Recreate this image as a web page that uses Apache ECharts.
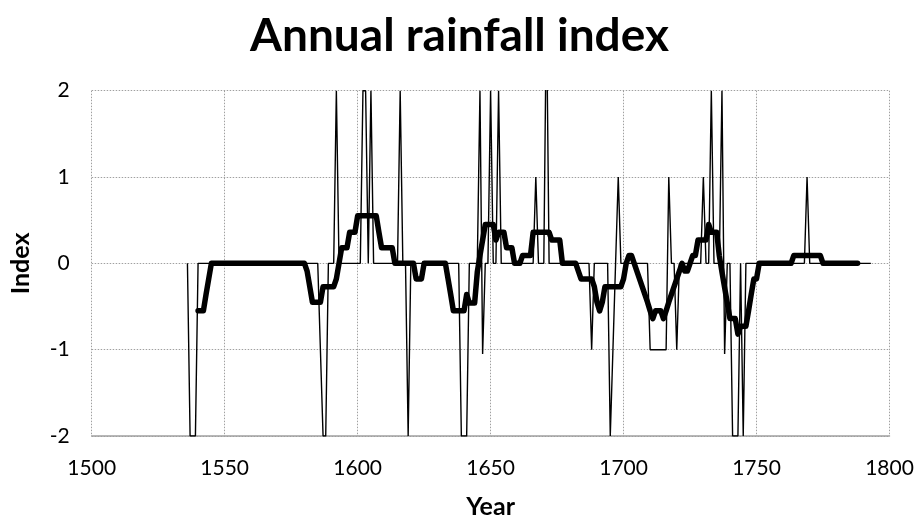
<!DOCTYPE html>
<html>
<head>
<meta charset="utf-8">
<script src="https://cdn.jsdelivr.net/npm/echarts@6/dist/echarts.min.js"></script>
<style>
html,body{margin:0;padding:0;background:#fff;}
#chart{width:919px;height:524px;}
</style>
</head>
<body>
<div id="chart"></div>
<script>
// Annual index values, one per year starting at thinStart
const thinStart = 1536;
const thinValues = [
  0, -2, -2, -2,                                   // 1536-1539
  0, 0, 0, 0, 0, 0, 0, 0, 0, 0,                    // 1540
  0, 0, 0, 0, 0, 0, 0, 0, 0, 0,                    // 1550
  0, 0, 0, 0, 0, 0, 0, 0, 0, 0,                    // 1560
  0, 0, 0, 0, 0, 0, 0, 0, 0, 0,                    // 1570
  0, 0, 0, 0, 0, 0, -1, -2, -2, 0,                 // 1580
  0, 0, 2, 0, 0, 0, 0, 0, 0, 0,                    // 1590
  0, 0, 2, 2, 0, 2, 0, 0, 0, 0,                    // 1600
  0, 0, 0, 0, 0, 0, 2, 0, 0, -2,                   // 1610
  0, 0, 0, 0, 0, 0, 0, 0, 0, 0,                    // 1620
  0, 0, 0, 0, 0, 0, 0, 0, 0, -2,                   // 1630
  -2, -2, 0, 0, 0, 0, 2, -1.05, 0, 0,              // 1640
  2, 0, 0, 2, 0, 0, 0, 0, 0, 0,                    // 1650
  0, 0, 0, 0, 0, 0, 0, 1, 0, 0,                    // 1660
  0, 3, 0, 0, 0, 0, 0, 0, 0, 0,                    // 1670
  0, 0, 0, 0, 0, 0, 0, 0, -1, 0,                   // 1680
  0, 0, 0, 0, 0, -2, -1, 0, 1, 0,                  // 1690
  0, 0, 0, 0, 0, 0, 0, 0, 0, 0,                    // 1700
  -1, -1, -1, -1, -1, -1, -1, 1, 0, 0,             // 1710
  -1, 0, 0, 0, 0, 0, 0, 0, 0, 0,                   // 1720
  1, 0, 0, 2, 0, 0, 0, 2, -1.05, 0,                // 1730
  0, -2, -2, -2, 0, -2, 0, 0, 0, 0,                // 1740
  0, 0, 0, 0, 0, 0, 0, 0, 0, 0,                    // 1750
  0, 0, 0, 0, 0, 0, 0, 0, 0, 1,                    // 1760
  0, 0, 0, 0, 0, 0, 0, 0, 0, 0,                    // 1770
  0, 0, 0, 0, 0, 0, 0, 0, 0, 0,                    // 1780
  0, 0, 0, 0                                       // 1790-1793
];

// Smoothed (11-year) index, one per year starting at smoothStart
const smoothStart = 1540;
const smoothValues = [
  -0.55, -0.55, -0.55, -0.36, -0.18, 0, 0, 0, 0, 0,                 // 1540
  0, 0, 0, 0, 0, 0, 0, 0, 0, 0,                                     // 1550
  0, 0, 0, 0, 0, 0, 0, 0, 0, 0,                                     // 1560
  0, 0, 0, 0, 0, 0, 0, 0, 0, 0,                                     // 1570
  0, -0.09, -0.27, -0.45, -0.45, -0.45, -0.45, -0.27, -0.27, -0.27, // 1580
  -0.27, -0.27, -0.18, 0, 0.18, 0.18, 0.18, 0.36, 0.36, 0.36,       // 1590
  0.55, 0.55, 0.55, 0.55, 0.55, 0.55, 0.55, 0.55, 0.36, 0.18,       // 1600
  0.18, 0.18, 0.18, 0.18, 0, 0, 0, 0, 0, 0,                         // 1610
  0, 0, -0.18, -0.18, -0.18, 0, 0, 0, 0, 0,                         // 1620
  0, 0, 0, 0, -0.18, -0.36, -0.55, -0.55, -0.55, -0.55,             // 1630
  -0.55, -0.36, -0.46, -0.46, -0.46, -0.1, 0.09, 0.27, 0.45, 0.45,  // 1640
  0.45, 0.45, 0.27, 0.36, 0.36, 0.36, 0.18, 0.18, 0.18, 0,          // 1650
  0, 0, 0.09, 0.09, 0.09, 0.09, 0.36, 0.36, 0.36, 0.36,             // 1660
  0.36, 0.36, 0.36, 0.27, 0.27, 0.27, 0.27, 0, 0, 0,                // 1670
  0, 0, 0, -0.09, -0.18, -0.18, -0.18, -0.18, -0.18, -0.27,         // 1680
  -0.45, -0.55, -0.45, -0.27, -0.27, -0.27, -0.27, -0.27, -0.27, -0.27, // 1690
  -0.18, 0, 0.09, 0.09, 0, -0.09, -0.18, -0.27, -0.36, -0.45,       // 1700
  -0.55, -0.64, -0.55, -0.55, -0.55, -0.64, -0.55, -0.45, -0.36, -0.27, // 1710
  -0.18, -0.09, 0, -0.09, -0.09, 0, 0.09, 0.09, 0.27, 0.27,         // 1720
  0.27, 0.27, 0.45, 0.36, 0.36, 0.36, 0.09, -0.1, -0.28, -0.46,     // 1730
  -0.64, -0.64, -0.64, -0.82, -0.73, -0.73, -0.73, -0.55, -0.36, -0.18, // 1740
  -0.18, 0, 0, 0, 0, 0, 0, 0, 0, 0,                                 // 1750
  0, 0, 0, 0, 0.09, 0.09, 0.09, 0.09, 0.09, 0.09,                   // 1760
  0.09, 0.09, 0.09, 0.09, 0.09, 0, 0, 0, 0, 0,                      // 1770
  0, 0, 0, 0, 0, 0, 0, 0, 0                                         // 1780-1788
];

const xTicks = [1500, 1550, 1600, 1650, 1700, 1750, 1800];
const yTicks = [-2, -1, 0, 1, 2];

const thinData = thinValues.map((v, i) => [thinStart + i, v]);
const smoothData = smoothValues.map((v, i) => [smoothStart + i, v]);

const FONT = 'Lato, "Open Sans", sans-serif';
const chart = echarts.init(document.getElementById('chart'), null, {renderer: 'canvas'});
chart.setOption({
  animation: false,
  backgroundColor: '#ffffff',
  title: {
    text: 'Annual rainfall index',
    left: 'center',
    top: 8,
    textStyle: {fontFamily: FONT, fontSize: 46, fontWeight: 'bold', color: '#000'}
  },
  grid: {left: 91.7, right: 29.5, top: 90.7, bottom: 86.7},
  xAxis: {
    type: 'value',
    min: xTicks[0], max: xTicks[xTicks.length - 1], interval: 50,
    name: 'Year', nameLocation: 'middle', nameGap: 58,
    nameTextStyle: {fontFamily: FONT, fontSize: 25, fontWeight: 'bold', color: '#000'},
    axisLine: {show: true, onZero: false, lineStyle: {color: '#a0a0a0', width: 1.5}},
    axisTick: {show: false},
    axisLabel: {fontFamily: FONT, fontSize: 21, color: '#000', margin: 22,
      formatter: v => String(v)},
    splitLine: {show: true, lineStyle: {color: '#a0a0a0', type: [1.5, 1.5], width: 1}}
  },
  yAxis: {
    type: 'value',
    min: yTicks[0], max: yTicks[yTicks.length - 1], interval: 1,
    name: 'Index', nameLocation: 'middle', nameGap: 58, nameRotate: 90,
    nameTextStyle: {fontFamily: FONT, fontSize: 25, fontWeight: 'bold', color: '#000'},
    axisLine: {show: false},
    axisTick: {show: false},
    axisLabel: {fontFamily: FONT, fontSize: 21, color: '#000', margin: 22,
      formatter: v => String(v)},
    splitLine: {show: true, lineStyle: {color: '#a0a0a0', type: [1.5, 1.5], width: 1}}
  },
  series: [
    {
      name: 'Annual', type: 'line', data: thinData, showSymbol: false, symbol: 'none',
      clip: true, lineStyle: {color: '#000', width: 1.4}, z: 2
    },
    {
      name: 'Smoothed', type: 'line', data: smoothData, showSymbol: false, symbol: 'none',
      clip: true, lineStyle: {color: '#000', width: 5.5, cap: 'round', join: 'round'}, z: 3
    }
  ]
});
</script>
</body>
</html>
